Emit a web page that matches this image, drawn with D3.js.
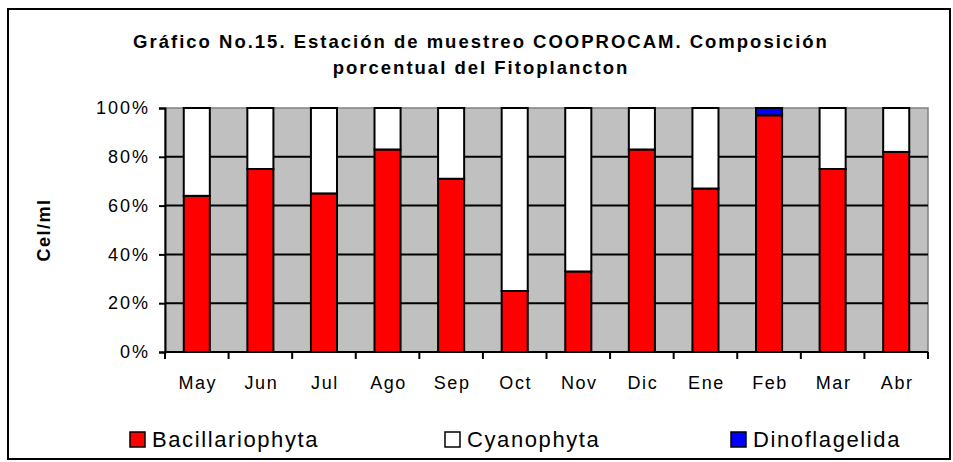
<!DOCTYPE html>
<html lang="es">
<head>
<meta charset="utf-8">
<title>Gráfico No.15</title>
<script src="https://d3js.org/d3.v7.min.js"></script>
<style>
  body { margin: 0; background: #fff; }
  text { font-family: "Liberation Sans", Arial, sans-serif; }
</style>
</head>
<body>
<script>
// datos (%)
var months = ["May","Jun","Jul","Ago","Sep","Oct","Nov","Dic","Ene","Feb","Mar","Abr"];
var bacillariophyta = [64, 75, 65, 83, 71, 25, 33, 83, 67, 97, 75, 82];
var cyanophyta      = [36, 25, 35, 17, 29, 75, 67, 17, 33,  0, 25, 18];
var dinoflagelida   = [ 0,  0,  0,  0,  0,  0,  0,  0,  0,  3,  0,  0];
var seriesNames = ["Bacillariophyta","Cyanophyta","Dinoflagelida"];
var seriesColors = ["#ff0000","#ffffff","#0000ff"];
var yTicks = [0, 20, 40, 60, 80, 100];

var w = 953, h = 462;
var m = {left: 165, right: 25, top: 108, bottom: 110};

var svg = d3.select("body").append("svg")
  .attr("width", w).attr("height", h);

// marco exterior
svg.append("rect")
  .attr("x", 8).attr("y", 9).attr("width", 942).attr("height", 450)
  .attr("fill", "#fff").attr("stroke", "#000").attr("stroke-width", 2);

// titulo
svg.append("text").attr("x", 481).attr("y", 48)
  .attr("text-anchor", "middle").attr("font-weight", "bold").attr("font-size", 18.5)
  .attr("letter-spacing", 2)
  .text("Gráfico No.15. Estación de muestreo COOPROCAM. Composición");
svg.append("text").attr("x", 481).attr("y", 74)
  .attr("text-anchor", "middle").attr("font-weight", "bold").attr("font-size", 18.5)
  .attr("letter-spacing", 2)
  .text("porcentual del Fitoplancton");

var x = d3.scaleBand().domain(months)
  .range([m.left, w - m.right]).paddingInner(0.59).paddingOuter(0.295);
var xb = d3.scaleBand().domain(months).range([m.left, w - m.right]);
var y = d3.scaleLinear().domain([0, 100]).range([h - m.bottom, m.top]);

// area del grafico
svg.append("rect")
  .attr("x", m.left).attr("y", m.top)
  .attr("width", w - m.right - m.left).attr("height", h - m.bottom - m.top)
  .attr("fill", "#c0c0c0").attr("stroke", "#808080").attr("stroke-width", 1.5);

// lineas de division
svg.append("g").selectAll("line").data(yTicks.slice(1, 5)).enter().append("line")
  .attr("x1", m.left).attr("x2", w - m.right)
  .attr("y1", function(d) { return y(d); }).attr("y2", function(d) { return y(d); })
  .attr("stroke", "#000").attr("stroke-width", 2);

// barras apiladas
var rows = months.map(function(mo, i) {
  return {month: mo, Bacillariophyta: bacillariophyta[i], Cyanophyta: cyanophyta[i], Dinoflagelida: dinoflagelida[i]};
});
var stack = d3.stack().keys(seriesNames)(rows);
svg.append("g").selectAll("g").data(stack).enter().append("g")
  .attr("fill", function(d, i) { return seriesColors[i]; })
  .selectAll("rect").data(function(d) { return d.filter(function(p) { return p[1] - p[0] > 0; }); })
  .enter().append("rect")
  .attr("x", function(d) { return x(d.data.month); })
  .attr("width", x.bandwidth())
  .attr("y", function(d) { return y(d[1]); })
  .attr("height", function(d) { return y(d[0]) - y(d[1]); })
  .attr("stroke", "#000").attr("stroke-width", 2);

// eje Y
var yAxis = svg.append("g").attr("transform", "translate(" + m.left + ",0)")
  .call(d3.axisLeft(y).tickValues(yTicks).tickSize(6).tickPadding(9)
    .tickFormat(function(d) { return d + "%"; }));
yAxis.select(".domain").attr("stroke-width", 2);
yAxis.selectAll(".tick line").attr("stroke-width", 2);
yAxis.selectAll("text").attr("font-size", 18).attr("fill", "#000")
  .attr("letter-spacing", 2)
  .style("font-family", "'Liberation Sans', Arial, sans-serif");

// eje X con marcas entre categorias
var xAxis = svg.append("g").attr("transform", "translate(0," + (h - m.bottom) + ")");
xAxis.append("line").attr("x1", m.left).attr("x2", w - m.right)
  .attr("stroke", "#000").attr("stroke-width", 2);
xAxis.selectAll("line.tk").data(months.concat(["end"])).enter().append("line")
  .attr("class", "tk")
  .attr("x1", function(d, i) { return i < months.length ? xb(d) : w - m.right; })
  .attr("x2", function(d, i) { return i < months.length ? xb(d) : w - m.right; })
  .attr("y1", 0).attr("y2", 7).attr("stroke", "#000").attr("stroke-width", 2);
xAxis.selectAll("text").data(months).enter().append("text")
  .attr("x", function(d) { return xb(d) + xb.bandwidth() / 2 + 1; })
  .attr("y", 37).attr("text-anchor", "middle").attr("font-size", 18)
  .attr("letter-spacing", 1.6)
  .text(function(d) { return d; });

// titulo eje Y
svg.append("text")
  .attr("transform", "translate(50," + ((m.top + h - m.bottom) / 2) + ") rotate(-90)")
  .attr("text-anchor", "middle").attr("font-weight", "bold").attr("font-size", 18)
  .attr("letter-spacing", 1.5)
  .text("Cel/ml");

// leyenda
var legX = [130, 445, 731];
var leg = svg.append("g").selectAll("g").data(seriesNames).enter().append("g")
  .attr("transform", function(d, i) { return "translate(" + legX[i] + ",447)"; });
leg.append("rect").attr("x", 0).attr("y", -15).attr("width", 15).attr("height", 15)
  .attr("fill", function(d, i) { return seriesColors[i]; })
  .attr("stroke", "#000").attr("stroke-width", 1.5);
leg.append("text").attr("x", 22).attr("y", 0).attr("font-size", 22)
  .attr("letter-spacing", 1.6)
  .text(function(d) { return d; });
</script>
</body>
</html>
